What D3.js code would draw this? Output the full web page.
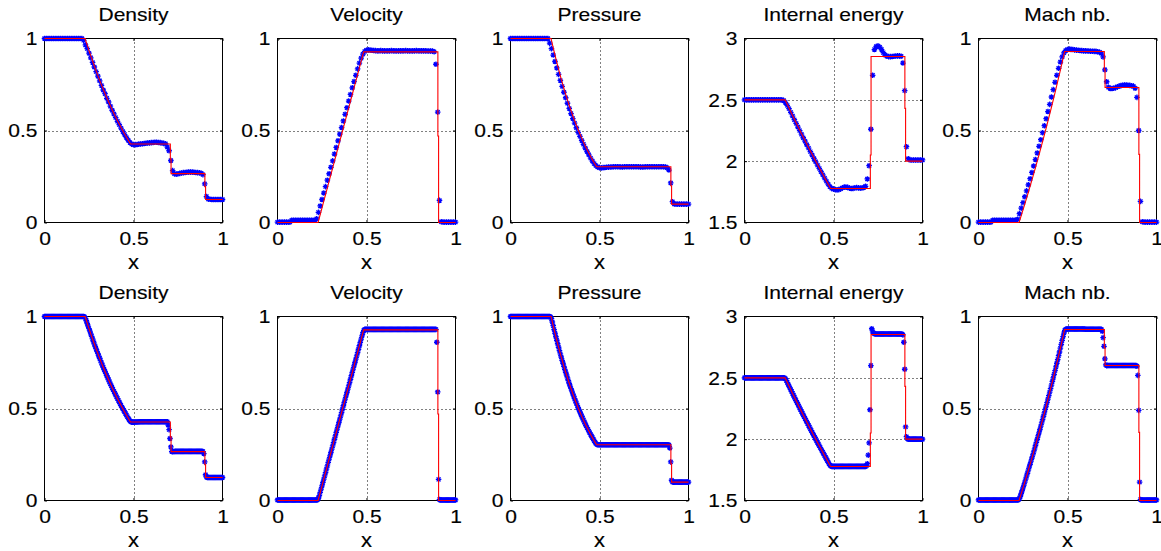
<!DOCTYPE html>
<html><head><meta charset="utf-8">
<script src="https://cdn.jsdelivr.net/npm/d3@7"></script>
<style>html,body{margin:0;padding:0;background:#fff;overflow:hidden}</style>
</head><body><svg id="c" width="1161" height="551"></svg>
<script>
// ---------------- DATA ----------------
const titles = ["Density", "Velocity", "Pressure", "Internal energy", "Mach nb."];
const xTicks = [0, 0.5, 1];
const yTicksUnit = [0, 0.5, 1];
const yTicksEnergy = [1.5, 2, 2.5, 3];

// numerical solution, coarse grid (x = 0 .. 1, step 0.01)
const rhoTop = [
1,1,1,1,1,1,1,1,1,1,
1,1,1,1,1,1,1,1,1,1,
1,1,.99,.965,.945,.92,.895,.87,.845,.82,
.795,.77,.745,.72,.70,.675,.655,.632,.61,.59,
.57,.55,.532,.513,.495,.478,.462,.447,.435,.426,
.423,.423,.424,.426,.427,.428,.429,.431,.432,.433,
.434,.435,.436,.436,.435,.434,.432,.43,.428,.41,
.39,.337,.282,.265,.262,.265,.267,.269,.271,.272,
.273,.274,.274,.274,.273,.272,.271,.27,.268,.26,
.21,.141,.127,.126,.125,.125,.125,.125,.125,.125,
.125];
const uTop = [
.002,.002,.002,.002,.002,.002,.002,.002,.012,.012,
.012,.012,.012,.012,.012,.012,.012,.012,.012,.012,
.012,.012,.02,.055,.09,.125,.16,.195,.23,.265,
.30,.335,.372,.408,.444,.48,.516,.552,.588,.624,
.66,.696,.732,.766,.80,.835,.866,.893,.915,.93,
.936,.938,.937,.936,.935,.934,.933,.933,.934,.933,
.933,.932,.933,.933,.934,.933,.933,.932,.933,.933,
.933,.933,.934,.933,.933,.932,.933,.933,.934,.933,
.933,.933,.933,.933,.932,.932,.932,.932,.928,.86,
.60,.12,.004,.002,.002,.002,.002,.002,.002,.002,
.002];
const pTop = [
1,1,1,1,1,1,1,1,1,1,
1,1,1,1,1,1,1,1,1,1,
1,1,.975,.945,.91,.875,.84,.805,.772,.74,
.708,.678,.648,.62,.592,.565,.54,.515,.49,.468,
.446,.425,.405,.386,.368,.35,.334,.32,.309,.302,
.298,.297,.298,.299,.30,.301,.302,.302,.303,.303,
.303,.303,.302,.302,.303,.303,.303,.303,.303,.303,
.303,.303,.303,.302,.302,.302,.303,.303,.303,.303,
.303,.303,.303,.303,.303,.303,.303,.302,.298,.285,
.215,.113,.101,.1,.1,.1,.1,.1,.1,.1,
.1];
const eTop = [
2.5,2.5,2.5,2.5,2.5,2.5,2.5,2.5,2.5,2.5,
2.5,2.5,2.5,2.5,2.5,2.5,2.5,2.5,2.5,2.5,
2.5,2.5,2.495,2.478,2.455,2.428,2.398,2.368,2.338,2.308,
2.278,2.249,2.22,2.191,2.163,2.134,2.106,2.078,2.05,2.022,
1.995,1.968,1.941,1.914,1.888,1.862,1.837,1.813,1.792,1.778,
1.772,1.768,1.766,1.768,1.774,1.782,1.788,1.79,1.786,1.78,
1.777,1.778,1.782,1.784,1.782,1.78,1.781,1.785,1.795,1.855,
1.963,2.26,2.70,2.91,2.935,2.94,2.93,2.91,2.885,2.865,
2.855,2.852,2.852,2.853,2.855,2.857,2.858,2.858,2.855,2.80,
2.575,2.118,2.02,2.01,2.01,2.01,2.01,2.01,2.01,2.01,
2.01];
const machTop = [
.002,.002,.002,.002,.002,.002,.002,.002,.012,.012,
.012,.012,.012,.012,.012,.012,.012,.012,.012,.012,
.012,.012,.018,.048,.078,.108,.14,.172,.205,.238,
.272,.307,.342,.378,.414,.45,.488,.526,.564,.603,
.642,.682,.722,.762,.80,.838,.872,.90,.922,.935,
.94,.942,.941,.94,.938,.937,.936,.935,.934,.933,
.933,.932,.932,.931,.931,.93,.93,.928,.925,.92,
.90,.83,.765,.735,.728,.728,.73,.733,.737,.741,
.744,.746,.747,.747,.746,.745,.743,.741,.73,.68,
.50,.115,.004,.002,.002,.002,.002,.002,.002,.002,
.002];

// numerical solution, fine grid (x = 0 .. 1, step 0.005)
const rhoBot = [
1,1,1,1,1,1,1,1,1,1,1,1,1,1,1,1,1,1,1,1,
1,1,1,1,1,1,1,1,1,1,1,1,1,1,1,1,1,1,1,1,
1,1,1,1,1,.998,.99,.977,.962,.948,.934,.92,.906,.892,.878,.864,.85,.837,.824,.811,
.798,.785,.773,.76,.748,.736,.724,.712,.701,.689,.678,.667,.656,.645,.634,.624,.613,.603,.593,.583,
.573,.563,.554,.544,.535,.526,.516,.507,.499,.49,.481,.473,.464,.456,.448,.44,.433,.428,.426,.426,
.426,.427,.427,.427,.427,.427,.428,.428,.428,.428,.428,.428,.428,.428,.428,.428,.428,.428,.428,.428,
.428,.428,.428,.428,.428,.428,.428,.428,.428,.428,.428,.428,.428,.428,.428,.428,.428,.428,.428,.41,
.385,.337,.291,.266,.265,.266,.266,.267,.267,.267,.267,.267,.267,.267,.267,.267,.267,.267,.267,.267,
.267,.267,.267,.267,.267,.267,.267,.267,.267,.267,.267,.267,.267,.267,.267,.267,.267,.267,.266,.255,
.21,.14,.127,.125,.125,.125,.125,.125,.125,.125,.125,.125,.125,.125,.125,.125,.125,.125,.125,.125,
.125];
const uBot = [
.003,.003,.003,.003,.003,.003,.003,.003,.003,.003,.003,.003,.003,.003,.003,.003,.003,.003,.003,.003,
.003,.003,.003,.003,.003,.003,.003,.003,.003,.003,.003,.003,.003,.003,.003,.003,.003,.003,.003,.003,
.003,.003,.003,.003,.003,.005,.012,.027,.044,.062,.08,.098,.116,.134,.152,.17,.188,.207,.225,.243,
.261,.279,.297,.315,.333,.351,.37,.388,.406,.424,.442,.46,.478,.496,.515,.533,.551,.569,.587,.605,
.623,.641,.659,.678,.696,.714,.732,.75,.768,.786,.804,.822,.841,.859,.877,.895,.912,.925,.93,.93,
.93,.93,.93,.93,.93,.93,.93,.93,.93,.93,.93,.93,.93,.93,.93,.93,.93,.93,.93,.93,
.93,.93,.93,.93,.93,.93,.93,.93,.93,.93,.93,.93,.93,.93,.93,.93,.93,.93,.93,.93,
.93,.93,.93,.93,.93,.93,.93,.93,.93,.93,.93,.93,.93,.93,.93,.93,.93,.93,.93,.93,
.93,.93,.93,.93,.93,.93,.93,.93,.93,.93,.93,.93,.93,.93,.93,.93,.93,.93,.93,.86,
.59,.115,.005,.003,.003,.003,.003,.003,.003,.003,.003,.003,.003,.003,.003,.003,.003,.003,.003,.003,
.003];
const pBot = [
1,1,1,1,1,1,1,1,1,1,1,1,1,1,1,1,1,1,1,1,
1,1,1,1,1,1,1,1,1,1,1,1,1,1,1,1,1,1,1,1,
1,1,1,1,1,.997,.988,.97,.95,.929,.909,.89,.871,.852,.833,.815,.797,.78,.762,.746,
.729,.713,.697,.682,.666,.651,.636,.622,.608,.594,.58,.567,.554,.541,.529,.517,.504,.493,.481,.47,
.458,.448,.437,.427,.416,.406,.396,.387,.377,.368,.359,.351,.342,.334,.325,.317,.309,.305,.303,.303,
.303,.303,.303,.303,.303,.303,.303,.303,.303,.303,.303,.303,.303,.303,.303,.303,.303,.303,.303,.303,
.303,.303,.303,.303,.303,.303,.303,.303,.303,.303,.303,.303,.303,.303,.303,.303,.303,.303,.303,.303,
.303,.303,.303,.303,.303,.303,.303,.303,.303,.303,.303,.303,.303,.303,.303,.303,.303,.303,.303,.303,
.303,.303,.303,.303,.303,.303,.303,.303,.303,.303,.303,.303,.303,.303,.303,.303,.303,.303,.302,.285,
.21,.11,.101,.1,.1,.1,.1,.1,.1,.1,.1,.1,.1,.1,.1,.1,.1,.1,.1,.1,
.1];
const eBot = [
2.5,2.5,2.5,2.5,2.5,2.5,2.5,2.5,2.5,2.5,2.5,2.5,2.5,2.5,2.5,2.5,2.5,2.5,2.5,2.5,
2.5,2.5,2.5,2.5,2.5,2.5,2.5,2.5,2.5,2.5,2.5,2.5,2.5,2.5,2.5,2.5,2.5,2.5,2.5,2.5,
2.5,2.5,2.5,2.5,2.5,2.499,2.493,2.479,2.463,2.448,2.433,2.418,2.403,2.388,2.373,2.358,2.343,2.328,2.314,2.299,
2.284,2.27,2.255,2.24,2.226,2.212,2.197,2.183,2.169,2.154,2.14,2.126,2.112,2.098,2.084,2.07,2.056,2.042,2.028,2.014,
2.001,1.987,1.973,1.96,1.946,1.933,1.919,1.906,1.893,1.879,1.866,1.853,1.84,1.826,1.813,1.8,1.788,1.78,1.778,1.778,
1.778,1.778,1.778,1.778,1.778,1.778,1.778,1.778,1.778,1.778,1.778,1.778,1.778,1.778,1.778,1.778,1.778,1.778,1.778,1.778,
1.778,1.778,1.778,1.778,1.778,1.778,1.778,1.778,1.778,1.778,1.778,1.778,1.778,1.778,1.778,1.778,1.778,1.782,1.80,1.87,
1.97,2.24,2.60,2.90,2.875,2.865,2.86,2.857,2.857,2.857,2.857,2.857,2.857,2.857,2.857,2.857,2.857,2.857,2.857,2.857,
2.857,2.857,2.857,2.857,2.857,2.857,2.857,2.857,2.857,2.857,2.857,2.857,2.857,2.857,2.857,2.857,2.857,2.857,2.85,2.79,
2.57,2.10,2.02,2.005,2,2,2,2,2,2,2,2,2,2,2,2,2,2,2,2,
2];
const machBot = [
.003,.003,.003,.003,.003,.003,.003,.003,.003,.003,.003,.003,.003,.003,.003,.003,.003,.003,.003,.003,
.003,.003,.003,.003,.003,.003,.003,.003,.003,.003,.003,.003,.003,.003,.003,.003,.003,.003,.003,.003,
.003,.003,.003,.003,.003,.005,.01,.023,.038,.053,.069,.084,.1,.116,.132,.148,.165,.181,.197,.214,
.231,.248,.264,.281,.299,.316,.333,.351,.368,.386,.404,.422,.44,.458,.476,.495,.513,.532,.551,.57,
.589,.608,.627,.647,.666,.686,.706,.726,.746,.766,.787,.807,.828,.849,.87,.891,.91,.925,.93,.932,
.932,.932,.932,.932,.932,.932,.932,.932,.932,.932,.932,.932,.932,.932,.932,.932,.932,.932,.932,.932,
.931,.931,.931,.931,.931,.931,.931,.931,.931,.931,.931,.931,.931,.931,.931,.931,.931,.931,.931,.92,
.885,.838,.77,.737,.733,.734,.734,.734,.734,.734,.734,.734,.734,.734,.734,.734,.734,.734,.734,.734,
.734,.734,.734,.734,.734,.734,.734,.734,.734,.734,.734,.734,.734,.734,.734,.734,.734,.733,.73,.68,
.49,.10,.005,.003,.003,.003,.003,.003,.003,.003,.003,.003,.003,.003,.003,.003,.003,.003,.003,.003,
.003];

// exact (reference) solution, polyline vertices
const exactX = [0,0.228,0.24,0.25,0.26,0.27,0.28,0.29,0.30,0.31,0.32,0.33,0.34,0.35,0.36,0.37,0.38,0.39,0.40,0.41,0.42,0.43,0.44,0.45,0.46,0.47,0.48,0.484,0.707,0.707,0.711,0.711,0.901,0.901,0.905,0.905,1];
const exactRho = [1,1,0.9638,0.9344,0.9057,0.8777,0.8504,0.8239,0.7980,0.7727,0.7481,0.7241,0.7008,0.6780,0.6558,0.6343,0.6132,0.5928,0.5729,0.5535,0.5347,0.5164,0.4986,0.4812,0.4644,0.4481,0.4322,0.4263,0.4263,0.346,0.346,0.2656,0.2656,0.195,0.195,0.125,0.125];
const exactU = [0,0,0.0435,0.0797,0.1159,0.1522,0.1884,0.2246,0.2609,0.2971,0.3333,0.3695,0.4058,0.4420,0.4782,0.5145,0.5507,0.5869,0.6232,0.6594,0.6956,0.7318,0.7681,0.8043,0.8405,0.8768,0.9130,0.9275,0.9275,0.9275,0.9275,0.9275,0.9275,0.47,0.47,0,0];
const exactP = [1,1,0.9496,0.9094,0.8706,0.8331,0.7972,0.7624,0.7291,0.6970,0.6661,0.6364,0.6079,0.5804,0.5540,0.5287,0.5043,0.4809,0.4584,0.4369,0.4162,0.3964,0.3774,0.3592,0.3418,0.3250,0.3090,0.3031,0.3031,0.3031,0.3031,0.3031,0.3031,0.2,0.2,0.1,0.1];
const exactE = [2.5,2.5,2.4634,2.4331,2.4029,2.3729,2.3432,2.3136,2.2842,2.2550,2.2260,2.1972,2.1685,2.1401,2.1118,2.0838,2.0559,2.0282,2.0007,1.9733,1.9462,1.9192,1.8925,1.8659,1.8395,1.8133,1.7873,1.7777,1.7777,2.05,2.05,2.8535,2.8535,2.43,2.43,2.0,2.0];
const exactM = [0,0,0.0370,0.0683,0.0999,0.1320,0.1645,0.1973,0.2307,0.2644,0.2985,0.3331,0.3682,0.4038,0.4397,0.4763,0.5132,0.5507,0.5888,0.6273,0.6663,0.7059,0.7461,0.7868,0.8281,0.8701,0.9126,0.9296,0.9296,0.83,0.83,0.7337,0.7337,0.37,0.37,0,0];

// ---------------- LAYOUT ----------------
const svg = d3.select("#c");
svg.append("rect").attr("width", 1161).attr("height", 551).attr("fill", "#fff");

const colLeft = [44.5, 277.5, 510.5, 744.5, 978.5];
const plotW = 178;
const rowBox = [{top: 38.5, bottom: 222.5}, {top: 316.5, bottom: 500.5}];
const FONT = "'Liberation Sans', Arial, Helvetica, sans-serif";
const FS = 17.5, SX = 1.2, TXT_STROKE = 0.15;
const star = "M-2.8,0H2.8M0,-2.8V2.8M-2,-2L2,2M-2,2L2,-2";

const panels = [
  {title: titles[0], top: rhoTop,  bot: rhoBot,  ex: exactRho, dom: [0, 1],   yt: yTicksUnit},
  {title: titles[1], top: uTop,    bot: uBot,    ex: exactU,   dom: [0, 1],   yt: yTicksUnit},
  {title: titles[2], top: pTop,    bot: pBot,    ex: exactP,   dom: [0, 1],   yt: yTicksUnit},
  {title: titles[3], top: eTop,    bot: eBot,    ex: exactE,   dom: [1.5, 3], yt: yTicksEnergy},
  {title: titles[4], top: machTop, bot: machBot, ex: exactM,   dom: [0, 1],   yt: yTicksUnit}
];

function styleText(sel, size) {
  sel.attr("font-family", FONT).attr("font-size", size).attr("fill", "#000")
     .attr("stroke", "#000").attr("stroke-width", TXT_STROKE);
}

function drawPanel(col, row, cfg, ys) {
  const L = colLeft[col], R = L + plotW, T = rowBox[row].top, B = rowBox[row].bottom;
  const x = d3.scaleLinear().domain([0, 1]).range([L, R]);
  const y = d3.scaleLinear().domain(cfg.dom).range([B, T]);
  const g = svg.append("g");

  // dotted grid
  const gx = xTicks.filter(v => v > 0 && v < 1);
  const gy = cfg.yt.filter(v => v > cfg.dom[0] && v < cfg.dom[1]);
  g.selectAll("line.gx").data(gx).join("line")
    .attr("x1", d => Math.round(x(d)) + 0.5).attr("x2", d => Math.round(x(d)) + 0.5)
    .attr("y1", T).attr("y2", B)
    .attr("stroke", "#000").attr("stroke-width", 1).attr("stroke-dasharray", "1,3");
  g.selectAll("line.gy").data(gy).join("line")
    .attr("y1", d => Math.round(y(d)) + 0.5).attr("y2", d => Math.round(y(d)) + 0.5)
    .attr("x1", L).attr("x2", R)
    .attr("stroke", "#000").attr("stroke-width", 1).attr("stroke-dasharray", "1,3");

  // axes (inward ticks on all sides)
  const fmt = d3.format("~g");
  const ax = g.append("g").attr("transform", `translate(0,${B})`)
    .call(d3.axisBottom(x).tickValues(xTicks).tickSize(-2.5).tickFormat(fmt));
  const ay = g.append("g").attr("transform", `translate(${L},0)`)
    .call(d3.axisLeft(y).tickValues(cfg.yt).tickSize(-2.5).tickFormat(fmt));
  const at = g.append("g").attr("transform", `translate(0,${T})`)
    .call(d3.axisTop(x).tickValues(xTicks).tickSize(-2.5).tickFormat(""));
  const ar = g.append("g").attr("transform", `translate(${R},0)`)
    .call(d3.axisRight(y).tickValues(cfg.yt).tickSize(-2.5).tickFormat(""));
  [ax, ay, at, ar].forEach(a => {
    a.select(".domain").remove();
    a.selectAll(".tick line").attr("stroke", "#000");
  });
  ax.selectAll("text").attr("y", 22.5).attr("dy", null)
    .attr("transform", `scale(${SX},1)`).call(styleText, FS);
  ay.selectAll("text").attr("x", -7 / SX).attr("dy", null).attr("y", 6.3)
    .attr("transform", `scale(${SX},1)`).call(styleText, FS);

  // box
  g.append("rect").attr("x", L).attr("y", T).attr("width", R - L).attr("height", B - T)
    .attr("fill", "none").attr("stroke", "#000").attr("stroke-width", 1);

  // title
  g.append("text").attr("transform", `translate(${(L + R) / 2},${T - 17.8}) scale(${SX},1)`)
    .attr("text-anchor", "middle").call(styleText, FS).text(cfg.title);
  // x label
  g.append("text").attr("transform", `translate(${(L + R) / 2},${B + 46}) scale(1.1,1)`)
    .attr("text-anchor", "middle").call(styleText, 20).text("x");

  // numerical points
  const n = ys.length - 1;
  const pts = ys.map((v, i) => [i / n, v]);
  g.append("g").selectAll("path").data(pts).join("path")
    .attr("d", star)
    .attr("transform", d => `translate(${x(d[0])},${y(d[1])})`)
    .attr("fill", "none").attr("stroke", "#0000ff").attr("stroke-width", 1.3);

  // exact solution
  const line = d3.line().x(d => x(d[0])).y(d => y(d[1]));
  g.append("path").datum(exactX.map((v, i) => [v, cfg.ex[i]]))
    .attr("d", line).attr("fill", "none").attr("stroke", "#ff0000").attr("stroke-width", 1.1);
}

panels.forEach((p, c) => {
  drawPanel(c, 0, p, p.top);
  drawPanel(c, 1, p, p.bot);
});
</script>
</body></html>
